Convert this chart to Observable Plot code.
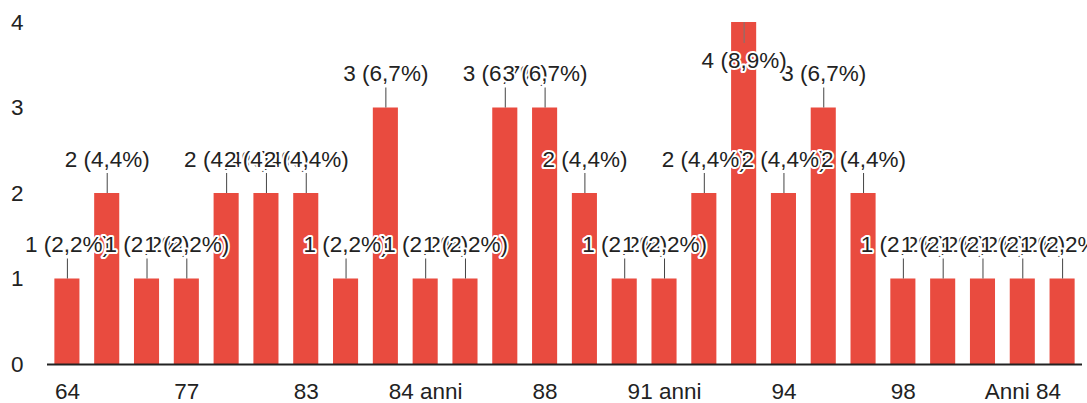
<!DOCTYPE html>
<html><head><meta charset="utf-8">
<script src="https://cdn.jsdelivr.net/npm/d3@7"></script>
<script src="https://cdn.jsdelivr.net/npm/@observablehq/plot@0.6"></script>
<style>body{margin:0;background:#fff;}</style>
</head><body><div id="chart"></div>
<script>
const categories = ["64","69","74","77","79","81","83","84","84 Anni","84 anni","85","86","88","89","90","91 anni","92","93","94","95","96","98","Anni 72","Anni 78","Anni 84","Anni 86"];
const counts =     [1,   2,   1,   1,   2,   2,   2,   1,   3,        1,        1,   3,   3,   2,   1,   1,        2,   4,   2,   3,   2,   1,   1,        1,        1,        1];
const yTicks = [0, 1, 2, 3, 4];
const xTickLabels = ["64","77","83","84 anni","88","91 anni","94","98","Anni 84"];

const total = d3.sum(counts);
const maxV = d3.max(counts);
const data = categories.map((c, i) => ({
  cat: c,
  v: counts[i],
  label: `${counts[i]} (${(counts[i] / total * 100).toFixed(1).replace(".", ",")}%)`
}));
const normal = data.filter(d => d.v < maxV);
const peak = data.filter(d => d.v === maxV);

const chart = Plot.plot({
  width: 1087, height: 403,
  marginLeft: 47, marginRight: 5, marginTop: 22, marginBottom: 39,
  x: {domain: categories, paddingInner: 0.37, paddingOuter: 0.185, round: false},
  y: {domain: [0, 4]},
  style: {fontFamily: "'Liberation Sans', Arial, sans-serif", fontSize: "22px", color: "#222", background: "#fff"},
  marks: [
    Plot.barY(data, {x: "cat", y: "v", fill: "#e94b3f"}),
    Plot.ruleY([0], {stroke: "#222", strokeWidth: 2}),
    Plot.ruleX(normal, {x: "cat", y1: "v", y2: "v", insetTop: -20, stroke: "#444"}),
    Plot.ruleX(peak, {x: "cat", y1: "v", y2: "v", insetBottom: -21, stroke: "#777"}),
    Plot.text(normal, {x: "cat", y: "v", text: "label", dy: -34, fontSize: 22.5, fill: "#222", stroke: "white", strokeWidth: 4}),
    Plot.text(peak, {x: "cat", y: "v", text: "label", dy: 38, fontSize: 22.5, fill: "#222", stroke: "white", strokeWidth: 4}),
    Plot.axisX({ticks: xTickLabels, tickSize: 0, tickPadding: 19, fontSize: 22.5, fill: "#222", label: null}),
    Plot.axisY({ticks: yTicks, tickFormat: "d", tickSize: 0, tickPadding: 24, fontSize: 22.5, fill: "#222", label: null})
  ]
});
document.getElementById("chart").appendChild(chart);
</script>
</body></html>
